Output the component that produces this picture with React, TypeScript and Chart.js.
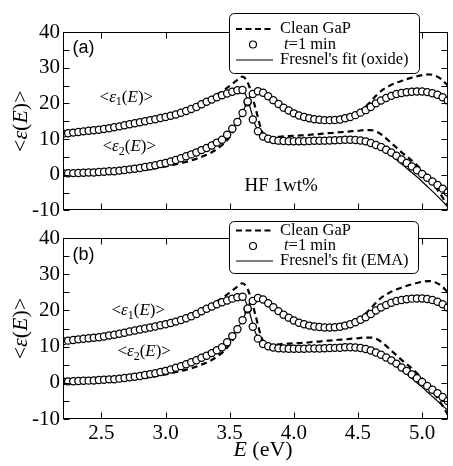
import React, { useEffect, useRef } from 'react';
import { Chart, registerables } from 'chart.js';

Chart.register(...registerables);

// ---------- data ----------
// energies of the measured points (circles)
const energyMeas = [
  2.20, 2.24, 2.28, 2.32, 2.36, 2.40, 2.44, 2.48, 2.52, 2.56,
  2.60, 2.64, 2.68, 2.72, 2.76, 2.80, 2.84, 2.88, 2.92, 2.96,
  3.00, 3.04, 3.08, 3.12, 3.16, 3.20, 3.24, 3.28, 3.32, 3.36,
  3.40, 3.44, 3.48, 3.52, 3.56, 3.60, 3.64, 3.68, 3.72, 3.76,
  3.80, 3.84, 3.88, 3.92, 3.96, 4.00, 4.04, 4.08, 4.12, 4.16,
  4.20, 4.24, 4.28, 4.32, 4.36, 4.40, 4.44, 4.48, 4.52, 4.56,
  4.60, 4.64, 4.68, 4.72, 4.76, 4.80, 4.84, 4.88, 4.92, 4.96,
  5.00, 5.04, 5.08, 5.12, 5.16, 5.20,
];

// t = 1 min (circles)
const measE1 = [
  11.5, 11.65, 11.8, 12.0, 12.15, 12.3, 12.45, 12.6, 12.8, 13.05,
  13.3, 13.55, 13.85, 14.15, 14.45, 14.7, 15.0, 15.3, 15.55, 15.9,
  16.2, 16.5, 16.9, 17.35, 17.85, 18.4, 19.0, 19.75, 20.45, 21.05,
  21.7, 22.25, 22.75, 23.25, 23.65, 23.75, 20.5, 15.5, 12.2, 10.7,
  10.1, 9.75, 9.55, 9.45, 9.4, 9.4, 9.4, 9.4, 9.45, 9.5,
  9.5, 9.55, 9.6, 9.65, 9.7, 9.8, 9.8, 9.75, 9.6, 9.35,
  8.9, 8.35, 7.75, 7.0, 6.2, 5.3, 4.25, 3.3, 2.3, 1.25,
  0.2, -0.85, -1.9, -2.9, -3.9, -5.0,
];
const measE2 = [
  0.4, 0.4, 0.45, 0.5, 0.55, 0.6, 0.65, 0.75, 0.85, 0.95,
  1.0, 1.15, 1.3, 1.5, 1.65, 1.9, 2.15, 2.4, 2.65, 3.0,
  3.3, 3.7, 4.15, 4.6, 5.15, 5.7, 6.25, 6.9, 7.5, 8.2,
  9.0, 9.8, 11.2, 12.9, 14.8, 17.3, 20.3, 22.6, 23.4, 23.0,
  22.0, 20.9, 19.8, 18.8, 18.0, 17.2, 16.6, 16.2, 15.8, 15.55,
  15.4, 15.3, 15.3, 15.35, 15.5, 15.8, 16.2, 16.7, 17.4, 18.1,
  19.0, 20.0, 20.8, 21.5, 22.1, 22.6, 22.9, 23.1, 23.25, 23.3,
  23.3, 23.15, 22.85, 22.4, 21.7, 20.8,
];

// energies of the curves (clean GaP and fits)
const energy = [
  2.20, 2.25, 2.30, 2.35, 2.40, 2.45, 2.50, 2.55, 2.60, 2.65,
  2.70, 2.75, 2.80, 2.85, 2.90, 2.95, 3.00, 3.05, 3.10, 3.15,
  3.20, 3.25, 3.30, 3.35, 3.40, 3.45, 3.50, 3.55, 3.60, 3.65,
  3.70, 3.75, 3.80, 3.85, 3.90, 3.95, 4.00, 4.05, 4.10, 4.15,
  4.20, 4.25, 4.30, 4.35, 4.40, 4.45, 4.50, 4.55, 4.60, 4.65,
  4.70, 4.75, 4.80, 4.85, 4.90, 4.95, 5.00, 5.05, 5.10, 5.15,
  5.20,
];

// Clean GaP (dashed)
const cleanE1 = [
  11.4, 11.6, 11.8, 12.0, 12.2, 12.4, 12.6, 12.9, 13.2, 13.5,
  13.9, 14.3, 14.6, 15.0, 15.4, 15.8, 16.2, 16.7, 17.2, 17.8,
  18.6, 19.4, 20.4, 21.4, 22.5, 23.6, 24.9, 26.3, 27.5, 25.0,
  18.8, 12.3, 10.3, 10.5, 10.7, 10.8, 10.9, 11.0, 11.1, 11.3,
  11.4, 11.6, 11.7, 11.9, 12.0, 12.2, 12.3, 12.5, 12.5, 12.0,
  10.8, 9.2, 7.6, 6.0, 4.6, 3.0, 1.2, -0.9, -3.2, -5.8,
  -8.8,
];
const cleanE2 = [
  0.0, 0.05, 0.1, 0.15, 0.2, 0.25, 0.3, 0.4, 0.5, 0.6,
  0.8, 1.0, 1.2, 1.4, 1.7, 2.0, 2.3, 2.7, 3.1, 3.5,
  4.0, 4.6, 5.3, 6.1, 7.2, 8.6, 10.6, 13.5, 17.5, 21.5,
  23.6, 23.4, 22.1, 20.8, 19.5, 18.4, 17.4, 16.7, 16.2, 15.8,
  15.6, 15.6, 15.7, 15.9, 16.2, 16.7, 17.5, 18.8, 20.6, 22.5,
  24.0, 25.0, 25.8, 26.4, 27.0, 27.5, 27.9, 28.1, 27.8, 26.8,
  25.0,
];

// Fresnel's fit (oxide) — panel (a)
const fitOxideE1 = [
  11.4, 11.6, 11.8, 12.0, 12.2, 12.4, 12.7, 13.0, 13.3, 13.6,
  14.0, 14.3, 14.7, 15.0, 15.4, 15.8, 16.2, 16.6, 17.1, 17.7,
  18.4, 19.2, 20.0, 20.9, 21.7, 22.4, 23.1, 23.6, 23.7, 19.8,
  13.8, 11.0, 10.0, 9.7, 9.5, 9.4, 9.4, 9.4, 9.4, 9.5,
  9.5, 9.6, 9.6, 9.7, 9.8, 9.8, 9.7, 9.4, 8.8, 8.0,
  6.9, 5.6, 4.2, 2.7, 1.2, -0.3, -1.9, -3.6, -5.3, -7.1,
  -9.0,
];
const fitOxideE2 = [
  0.3, 0.4, 0.4, 0.5, 0.6, 0.7, 0.8, 0.9, 1.0, 1.2,
  1.4, 1.6, 1.9, 2.2, 2.5, 2.9, 3.3, 3.8, 4.4, 5.0,
  5.7, 6.4, 7.2, 8.1, 9.1, 10.4, 12.1, 14.4, 17.5, 21.2,
  23.3, 23.1, 21.9, 20.5, 19.2, 18.1, 17.2, 16.5, 16.0, 15.6,
  15.4, 15.3, 15.3, 15.5, 15.8, 16.3, 17.0, 17.9, 19.0, 20.2,
  21.2, 22.0, 22.6, 23.0, 23.2, 23.3, 23.3, 23.1, 22.6, 21.8,
  20.8,
];

// Fresnel's fit (EMA) — panel (b)
const fitEmaE1 = [
  11.4, 11.6, 11.8, 12.0, 12.2, 12.4, 12.7, 13.0, 13.3, 13.6,
  14.0, 14.3, 14.7, 15.0, 15.4, 15.8, 16.2, 16.6, 17.1, 17.7,
  18.4, 19.2, 20.0, 20.9, 21.7, 22.5, 23.2, 23.7, 23.8, 19.9,
  13.9, 11.1, 10.1, 9.8, 9.6, 9.5, 9.5, 9.5, 9.5, 9.6,
  9.6, 9.7, 9.7, 9.8, 9.9, 9.9, 9.8, 9.5, 8.9, 8.1,
  7.1, 5.9, 4.6, 3.2, 1.8, 0.3, -1.2, -2.8, -4.4, -6.0,
  -7.6,
];
const fitEmaE2 = [
  0.3, 0.4, 0.4, 0.5, 0.6, 0.7, 0.8, 0.9, 1.0, 1.2,
  1.4, 1.6, 1.9, 2.2, 2.5, 2.9, 3.3, 3.8, 4.4, 5.0,
  5.7, 6.4, 7.2, 8.1, 9.1, 10.4, 12.1, 14.4, 17.4, 21.1,
  23.3, 23.2, 22.0, 20.6, 19.3, 18.2, 17.2, 16.5, 16.0, 15.6,
  15.4, 15.3, 15.3, 15.5, 15.8, 16.3, 17.0, 17.9, 19.0, 20.2,
  21.2, 22.0, 22.6, 23.0, 23.2, 23.3, 23.3, 23.1, 22.6, 21.8,
  20.8,
];

const xTickValues = [2.5, 3.0, 3.5, 4.0, 4.5, 5.0];
const yTickLabels = [-10, 0, 10, 20, 30, 40];

const legendLabels = ['Clean GaP', 't=1 min'];
const fitLabels = { a: "Fresnel's fit (oxide)", b: "Fresnel's fit (EMA)" };

// ---------- styling / layout ----------
const SERIF = '"Liberation Serif", "Times New Roman", serif';
const SANS = '"Liberation Sans", Arial, sans-serif';

type PanelKey = 'a' | 'b';
type Part = { t: string; it?: boolean; s?: number; dy?: number; fam?: string };

function setFont(ctx: CanvasRenderingContext2D, p: Part, base: number) {
  ctx.font = `${p.it ? 'italic ' : ''}${p.s ?? base}px ${p.fam ?? SERIF}`;
}
function measureParts(ctx: CanvasRenderingContext2D, parts: Part[], base: number) {
  let w = 0;
  for (const p of parts) {
    setFont(ctx, p, base);
    w += ctx.measureText(p.t).width;
  }
  return w;
}
function drawParts(ctx: CanvasRenderingContext2D, parts: Part[], x: number, y: number, base: number) {
  let cx = x;
  for (const p of parts) {
    setFont(ctx, p, base);
    ctx.fillText(p.t, cx, y + (p.dy ?? 0));
    cx += ctx.measureText(p.t).width;
  }
}

const epsParts = (n: string): Part[] => [
  { t: '<' },
  { t: 'ε', it: true },
  { t: n, s: 12, dy: 5 },
  { t: '(' },
  { t: 'E', it: true },
  { t: ')>' },
];

const annotations: Record<PanelKey, { parts: Part[]; size: number; x: number; y: number }[]> = {
  a: [
    { parts: [{ t: '(a)', fam: SANS }], size: 18, x: 2.275, y: 35.6 },
    { parts: epsParts('1'), size: 17, x: 2.485, y: 21.7 },
    { parts: epsParts('2'), size: 17, x: 2.508, y: 7.8 },
    { parts: [{ t: 'HF 1wt%' }], size: 19, x: 3.615, y: -3.3 },
  ],
  b: [
    { parts: [{ t: '(b)', fam: SANS }], size: 18, x: 2.275, y: 35.4 },
    { parts: epsParts('1'), size: 17, x: 2.578, y: 19.9 },
    { parts: epsParts('2'), size: 17, x: 2.624, y: 8.6 },
  ],
};

const legendBoxes: Record<PanelKey, { x0: number; y0: number; x1: number; y1: number; rows: number[] }> = {
  a: { x0: 229, y0: 13, x1: 419, y1: 73, rows: [29, 44.5, 60] },
  b: { x0: 229, y0: 3, x1: 418, y1: 55, rows: [12.5, 28, 43] },
};

function drawLegend(ctx: CanvasRenderingContext2D, panel: PanelKey) {
  const b = legendBoxes[panel];
  ctx.save();
  ctx.beginPath();
  ctx.roundRect(b.x0 + 0.5, b.y0 + 0.5, b.x1 - b.x0, b.y1 - b.y0, 5);
  ctx.fillStyle = '#fff';
  ctx.fill();
  ctx.strokeStyle = '#000';
  ctx.lineWidth = 1;
  ctx.stroke();

  ctx.textBaseline = 'middle';
  ctx.textAlign = 'left';
  // dashed
  ctx.setLineDash([6, 3.5]);
  ctx.lineWidth = 2.2;
  ctx.beginPath();
  ctx.moveTo(236, b.rows[0]);
  ctx.lineTo(273, b.rows[0]);
  ctx.stroke();
  ctx.setLineDash([]);
  ctx.fillStyle = '#000';
  drawParts(ctx, [{ t: legendLabels[0] }], 280, b.rows[0], 16.5);
  // circle
  ctx.beginPath();
  ctx.arc(253, b.rows[1], 3.5, 0, Math.PI * 2);
  ctx.fillStyle = '#fff';
  ctx.fill();
  ctx.lineWidth = 1.2;
  ctx.stroke();
  ctx.fillStyle = '#000';
  drawParts(ctx, [{ t: legendLabels[1].slice(0, 1), it: true }, { t: legendLabels[1].slice(1) }], 284, b.rows[1], 16.5);
  // solid
  ctx.lineWidth = 1.2;
  ctx.beginPath();
  ctx.moveTo(236, b.rows[2]);
  ctx.lineTo(273, b.rows[2]);
  ctx.stroke();
  drawParts(ctx, [{ t: fitLabels[panel] }], 280, b.rows[2], 16.5);
  ctx.restore();
}

function makeDecor(panel: PanelKey) {
  return {
    id: 'decor' + panel,
    afterDraw(chart: any) {
      const ctx: CanvasRenderingContext2D = chart.ctx;
      const { left, right, top, bottom } = chart.chartArea;
      const xs = chart.scales.x;
      const ys = chart.scales.y;
      ctx.save();
      ctx.strokeStyle = '#000';
      ctx.lineWidth = 1;
      const L = Math.round(left) + 0.5;
      const R = Math.round(right) - 0.5;
      const T = Math.round(top) + 0.5;
      const B = Math.round(bottom) - 0.5;
      ctx.strokeRect(L, T, R - L, B - T);
      ctx.beginPath();
      for (const v of xTickValues) {
        const px = Math.round(xs.getPixelForValue(v)) + 0.5;
        ctx.moveTo(px, B);
        ctx.lineTo(px, B - 6);
        ctx.moveTo(px, T);
        ctx.lineTo(px, T + 6);
      }
      for (const t of ys.ticks) {
        const py = Math.round(ys.getPixelForValue(t.value)) + 0.5;
        ctx.moveTo(L, py);
        ctx.lineTo(L + 6, py);
        ctx.moveTo(R, py);
        ctx.lineTo(R - 6, py);
      }
      ctx.stroke();

      ctx.fillStyle = '#000';
      ctx.textBaseline = 'middle';
      ctx.textAlign = 'left';
      for (const a of annotations[panel]) {
        drawParts(ctx, a.parts, xs.getPixelForValue(a.x), ys.getPixelForValue(a.y), a.size);
      }

      // y-axis title
      const yTitle: Part[] = [{ t: '<' }, { t: 'ε', it: true }, { t: '(' }, { t: 'E', it: true }, { t: ')>' }];
      ctx.save();
      ctx.translate(21, (top + bottom) / 2);
      ctx.rotate(-Math.PI / 2);
      const w = measureParts(ctx, yTitle, 22);
      drawParts(ctx, yTitle, -w / 2, 0, 22);
      ctx.restore();

      if (panel === 'b') {
        const xTitle: Part[] = [{ t: 'E', it: true }, { t: ' (eV)' }];
        const wx = measureParts(ctx, xTitle, 22);
        drawParts(ctx, xTitle, 263 - wx / 2, 232, 22);
      }

      drawLegend(ctx, panel);
      ctx.restore();
    },
  };
}

function makeConfig(panel: PanelKey): any {
  const fitE1 = panel === 'a' ? fitOxideE1 : fitEmaE1;
  const fitE2 = panel === 'a' ? fitOxideE2 : fitEmaE2;
  const pts = (xs: number[], ys: number[]) => xs.map((x, i) => ({ x, y: ys[i] }));
  const circle = (label: string, ys: number[]) => ({
    label,
    data: pts(energyMeas, ys),
    showLine: false,
    pointRadius: 3.6,
    pointBorderWidth: 1.25,
    pointBackgroundColor: '#fff',
    pointBorderColor: '#000',
    order: 0,
  });
  const dashed = (label: string, ys: number[]) => ({
    label,
    data: pts(energy, ys),
    borderColor: '#000',
    borderWidth: 2.2,
    borderDash: [6, 4],
    pointRadius: 0,
    cubicInterpolationMode: 'monotone',
    order: 1,
  });
  const solid = (label: string, ys: number[]) => ({
    label,
    data: pts(energy, ys),
    borderColor: '#000',
    borderWidth: 1.2,
    pointRadius: 0,
    cubicInterpolationMode: 'monotone',
    order: 2,
  });
  return {
    type: 'line',
    data: {
      datasets: [
        circle('t=1 min ε1', measE1),
        circle('t=1 min ε2', measE2),
        dashed('Clean GaP ε1', cleanE1),
        dashed('Clean GaP ε2', cleanE2),
        solid(fitLabels[panel] + ' ε1', fitE1),
        solid(fitLabels[panel] + ' ε2', fitE2),
      ],
    },
    options: {
      animation: false,
      responsive: false,
      maintainAspectRatio: false,
      devicePixelRatio: 1,
      layout: { padding: { left: 0, right: 1, top: panel === 'a' ? 32 : 20, bottom: 0 } },
      plugins: { legend: { display: false }, tooltip: { enabled: false } },
      scales: {
        x: {
          type: 'linear',
          min: 2.2,
          max: 5.2,
          grid: { display: false, drawTicks: false },
          border: { display: false },
          afterBuildTicks: (s: any) => {
            s.ticks = xTickValues.map((v) => ({ value: v }));
          },
          ticks: {
            display: panel === 'b',
            autoSkip: false,
            maxRotation: 0,
            padding: 2,
            color: '#000',
            font: { family: SERIF, size: 21 },
            callback: (v: any) => Number(v).toFixed(1),
          },
          afterFit: (s: any) => {
            s.height = panel === 'a' ? 14 : 47;
          },
        },
        y: {
          type: 'linear',
          min: -10,
          max: 40,
          grid: { display: false, drawTicks: false },
          border: { display: false },
          ticks: {
            stepSize: 5,
            autoSkip: false,
            padding: 3,
            color: '#000',
            font: { family: SERIF, size: 21 },
            callback: (v: any) => (yTickLabels.includes(Number(v)) ? String(v) : ''),
          },
          afterFit: (s: any) => {
            s.width = 63;
          },
        },
      },
    },
    plugins: [makeDecor(panel)],
  };
}

export default function App() {
  const refA = useRef<HTMLCanvasElement>(null);
  const refB = useRef<HTMLCanvasElement>(null);
  useEffect(() => {
    const a = new Chart(refA.current as HTMLCanvasElement, makeConfig('a'));
    const b = new Chart(refB.current as HTMLCanvasElement, makeConfig('b'));
    return () => {
      a.destroy();
      b.destroy();
    };
  }, []);
  return (
    <div style={{ position: 'absolute', left: 0, top: 0, width: 453, height: 466, background: '#fff', overflow: 'hidden' }}>
      <canvas
        ref={refA}
        width={453}
        height={226}
        style={{ position: 'absolute', left: 0, top: 0, width: 453, height: 226 }}
      />
      <canvas
        ref={refB}
        width={453}
        height={248}
        style={{ position: 'absolute', left: 0, top: 218, width: 453, height: 248 }}
      />
    </div>
  );
}
